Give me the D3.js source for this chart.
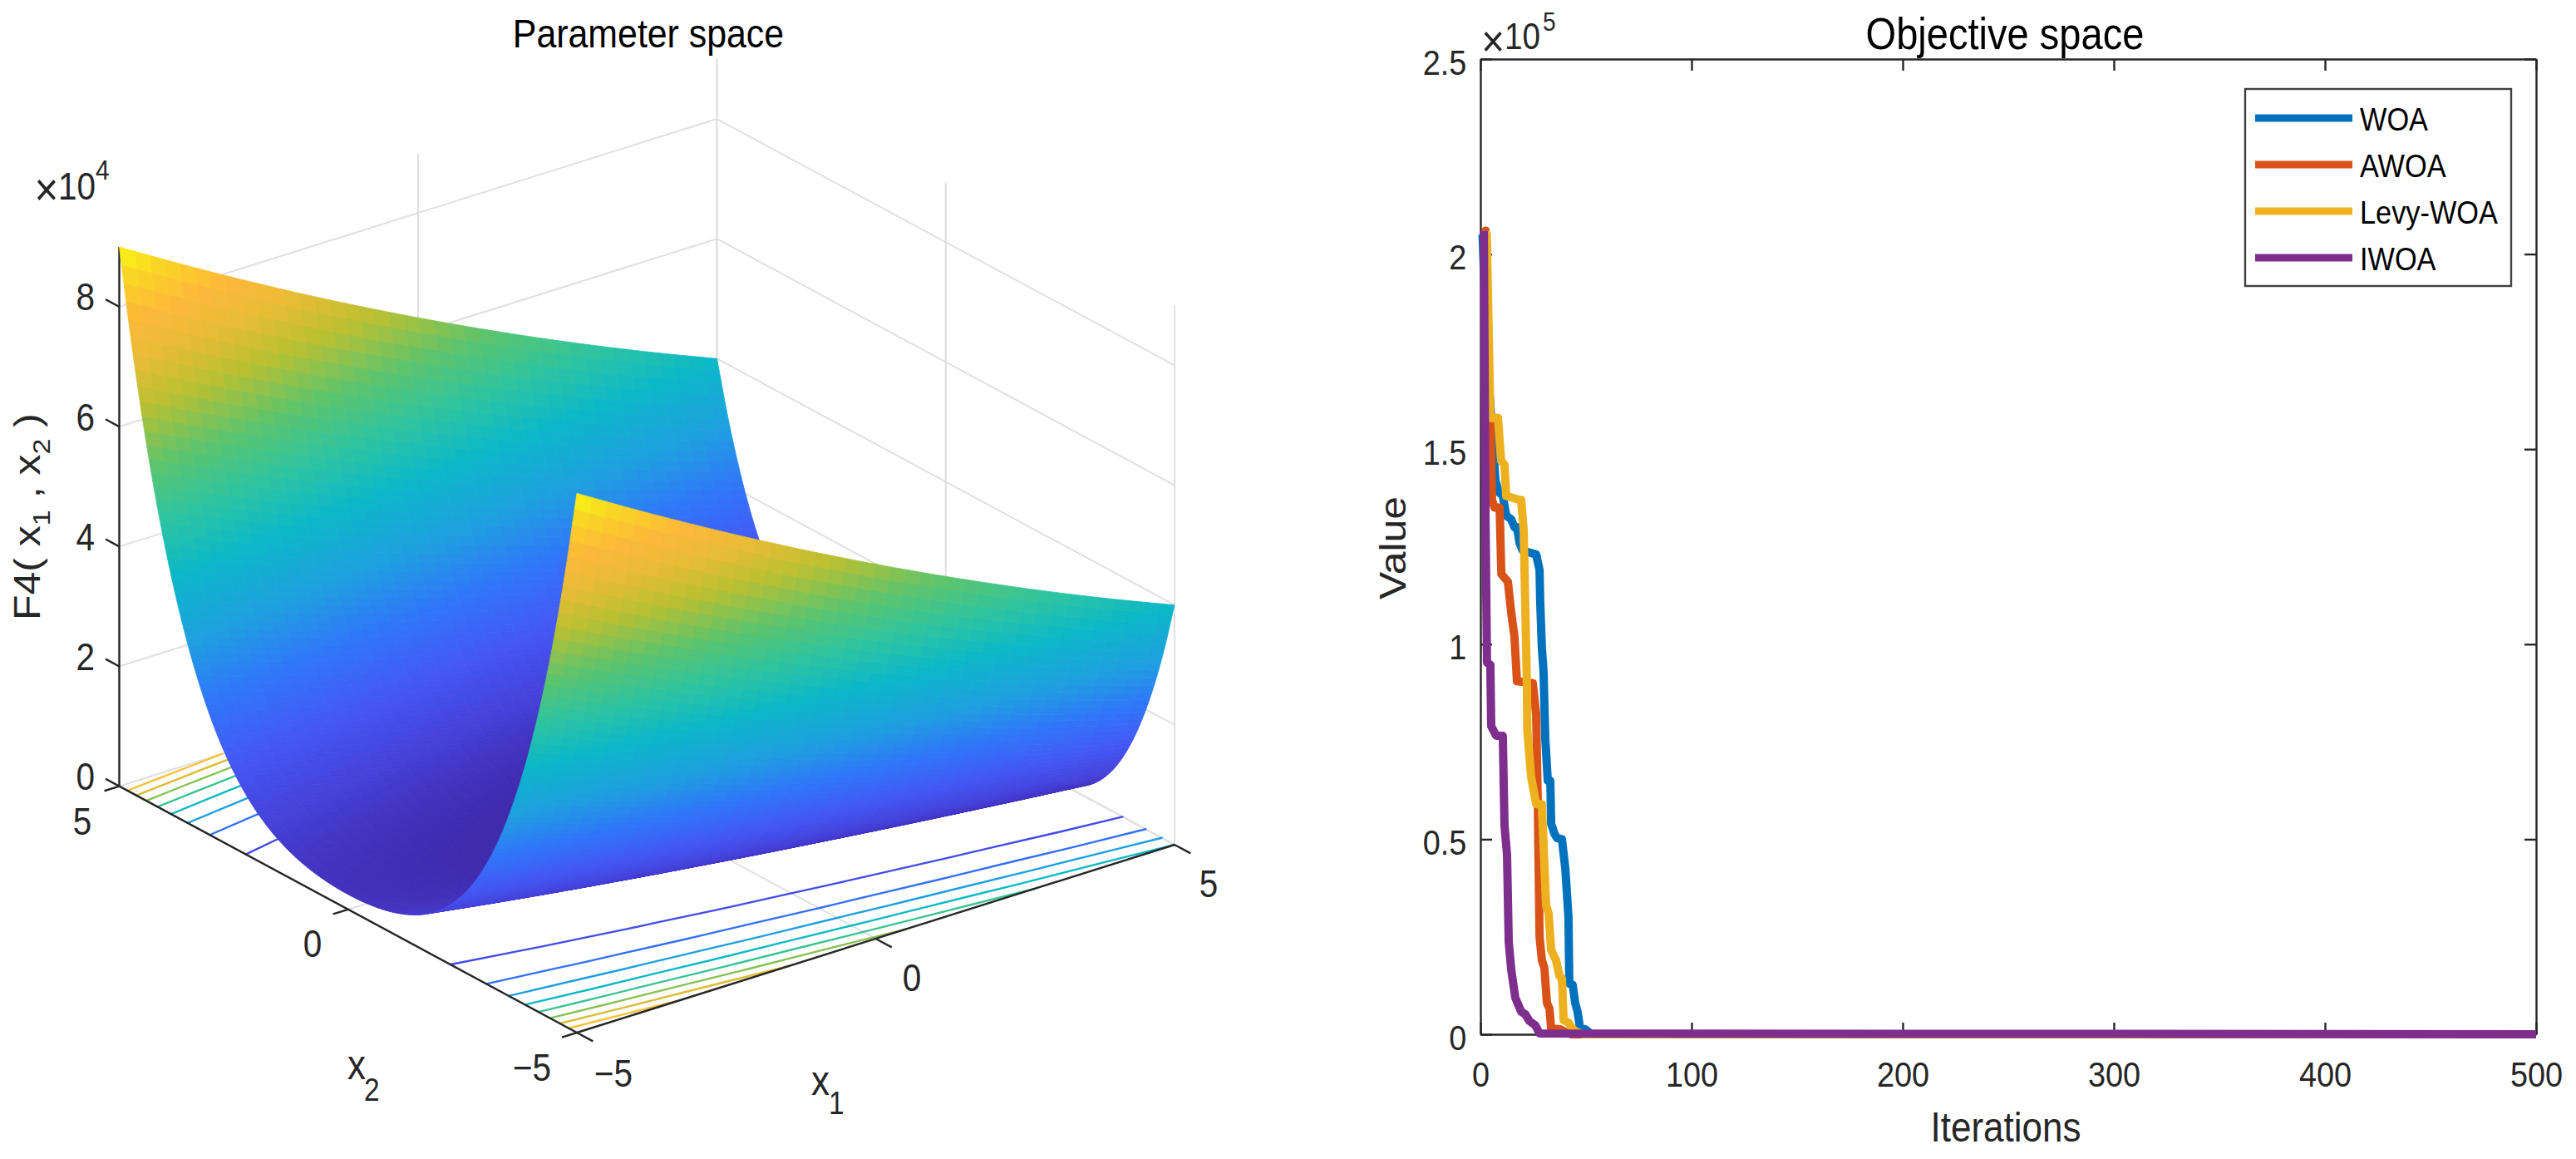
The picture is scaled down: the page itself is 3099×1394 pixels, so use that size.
<!DOCTYPE html>
<html>
<head>
<meta charset="utf-8">
<script src="https://cdn.jsdelivr.net/npm/d3@7"></script>
<style>
	html, body { margin: 0; padding: 0; background: #fff; }
	text { font-family: "Liberation Sans", Arial, sans-serif; }
</style>
</head>
<body>
<svg class="figure" width="3099" height="1394"></svg>
<script>
// ---------- Surface values, in units of 1e4 ----------
var x1Grid = [-5, -4, -3, -2, -1, 0, 1, 2, 3, 4, 5];
// Rows for x2 = 0, 0.25 ... 5. The trough is the same on the negative x2 side
var x2Half = [0, 0.25, 0.5, 0.75, 1, 1.25, 1.5, 1.75, 2, 2.25, 2.5, 2.75, 3, 3.25, 3.5, 3.75, 4, 4.25, 4.5, 4.75, 5];
var zRows = [
	[.25, .16, .09, .04, .01, 0, .01, .04, .09, .16, .25],
	[.256, .165, .094, .043, .011, 0, .009, .038, .086, .155, .244],
	[.276, .181, .106, .051, .016, .001, .006, .031, .076, .141, .226],
	[.309, .208, .127, .066, .024, .003, .002, .021, .059, .118, .197],
	[.36, .25, .16, .09, .04, .01, 0, .01, .04, .09, .16],
	[.431, .309, .208, .127, .066, .024, .003, .002, .021, .059, .118],
	[.526, .391, .276, .181, .106, .051, .016, .001, .006, .031, .076],
	[.65, .499, .368, .256, .165, .094, .043, .011, 0, .009, .038],
	[.81, .64, .49, .36, .25, .16, .09, .04, .01, 0, .01],
	[1.013, .821, .65, .499, .368, .256, .165, .094, .043, .011, 0],
	[1.266, 1.051, .856, .681, .526, .391, .276, .181, .106, .051, .016],
	[1.578, 1.337, 1.116, .914, .733, .572, .431, .309, .208, .127, .066],
	[1.96, 1.69, 1.44, 1.21, 1, .81, .64, .49, .36, .25, .16],
	[2.422, 2.121, 1.839, 1.578, 1.337, 1.116, .914, .733, .572, .431, .309],
	[2.976, 2.641, 2.326, 2.031, 1.756, 1.501, 1.266, 1.051, .856, .681, .526],
	[3.634, 3.263, 2.911, 2.58, 2.269, 1.978, 1.706, 1.455, 1.224, 1.013, .821],
	[4.41, 4, 3.61, 3.24, 2.89, 2.56, 2.25, 1.96, 1.69, 1.44, 1.21],
	[5.319, 4.868, 4.436, 4.025, 3.634, 3.263, 2.911, 2.58, 2.269, 1.978, 1.706],
	[6.376, 5.881, 5.406, 4.951, 4.516, 4.101, 3.706, 3.331, 2.976, 2.641, 2.326],
	[7.597, 7.056, 6.534, 6.033, 5.552, 5.091, 4.649, 4.228, 3.827, 3.446, 3.084],
	[9, 8.41, 7.84, 7.29, 6.76, 6.25, 5.76, 5.29, 4.84, 4.41, 4]
];
var contourLevels = [1, 2, 3, 4, 5, 6, 7, 8];
var horizTicks = [-5, 0, 5];
var zTicks = [0, 2, 4, 6, 8];

// ---------- Convergence curves, values in units of 1e5 ----------
var seriesNames = ['WOA', 'AWOA', 'Levy-WOA', 'IWOA'];
var seriesColors = ['#0072bd', '#d95319', '#edb120', '#7e2f8e'];
var iterWOA = [1, 3, 7.1, 8.7, 10.6, 12.2, 14.6, 16.1, 17.3, 18.5, 20, 26.4, 28, 28.3, 29.1, 29.9, 30.7, 31.9, 33.1, 33.5, 35, 36.2, 38.6, 40.2, 41.7, 42.1, 43.7, 44.9, 46, 47.2, 49.6, 52.8, 500];
var valWOA = [2.05, 1.75, 1.42, 1.39, 1.38, 1.33, 1.32, 1.3, 1.3, 1.26, 1.24, 1.23, 1.19, 1.11, .99, .93, .76, .65, .65, .54, .515, .503, .5, .425, .3, .13, .127, .08, .058, .015, .013, 0, 0];
var iterAWOA = [2, 2.4, 3.9, 4.7, 5.5, 6.7, 9.1, 9.9, 13, 14.6, 16.1, 17.3, 24.8, 26.4, 27.2, 28, 29.1, 30.3, 31.5, 32.7, 33.5, 37.8, 40.2, 43, 500];
var valAWOA = [2.05, 2.06, 1.71, 1.57, 1.37, 1.35, 1.35, 1.18, 1.16, 1.08, 1.02, .905, .9, .82, .58, .25, .19, .17, .08, .066, .015, .013, .006, 0, 0];
var iterLevy = [1, 3, 4.7, 8.3, 9.4, 9.8, 11.4, 12.2, 18.5, 19.3, 20.5, 21.3, 22, 22.2, 24, 26.4, 29.1, 31.1, 32.3, 33.5, 35.8, 37.4, 38.6, 39.4, 41.7, 43.7, 45.7, 48.8, 500];
var valLevy = [2.05, 2.05, 1.58, 1.58, 1.5, 1.47, 1.46, 1.38, 1.37, 1.37, 1.29, 1.08, .9, .78, .66, .59, .59, .33, .31, .216, .19, .15, .143, .036, .03, .013, .006, 0, 0];
var iterIWOA = [1.6, 2.4, 3.1, 4.7, 5.1, 7.5, 10.6, 11.4, 12.6, 13.4, 14.6, 16.5, 19.3, 21.3, 23.2, 26, 28, 500];
var valIWOA = [2.06, 1.33, .953, .947, .79, .765, .765, .535, .46, .237, .165, .094, .058, .051, .034, .023, .002, 0];
var seriesIter = [iterWOA, iterAWOA, iterLevy, iterIWOA];
var seriesVal = [valWOA, valAWOA, valLevy, valIWOA];

var xTicksRight = [0, 100, 200, 300, 400, 500];
var yTicksRight = [0, 0.5, 1, 1.5, 2, 2.5];

var svg = d3.select('.figure');
var inkColor = '#262626';

// The whole figure is a bit narrower than it is tall, so text is squeezed
var squeeze = 0.88;
function addText(str, x, y, size, anchor, color) {
	return svg.append('text')
		.attr('transform', 'translate(' + x + ',' + y + ') scale(' + squeeze + ',1)')
		.attr('font-size', size)
		.attr('text-anchor', anchor || 'middle')
		.attr('fill', color || inkColor)
		.text(str);
}

// ---------- Left panel: 3D view ----------
var corner = {left: [143.5, 945.6], bottom: [694, 1242], right: [1413, 1016]};
var unitX1 = d3.scaleLinear().domain([-5, 5]).range([0, 1]);
var unitX2 = d3.scaleLinear().domain([-5, 5]).range([0, 1]);
var zLift = d3.scaleLinear().domain([0, 9]).range([0, 648.6]);

function project(x1, x2, z) {
	var a = unitX1(x1), b = unitX2(x2);
	return [
		corner.bottom[0] + a * (corner.right[0] - corner.bottom[0]) + b * (corner.left[0] - corner.bottom[0]),
		corner.bottom[1] + a * (corner.right[1] - corner.bottom[1]) + b * (corner.left[1] - corner.bottom[1]) - zLift(z)
	];
}

// Table over the full x2 range
var x2Grid = x2Half.slice(1).reverse().map(function(d) { return -d; }).concat(x2Half);
var zTable = zRows.slice(1).reverse().concat(zRows);

function tableAt(i, j) {
	if (j < 0) return 2 * tableAt(i, 0) - tableAt(i, 1);
	if (j >= x2Grid.length) return 2 * tableAt(i, x2Grid.length - 1) - tableAt(i, x2Grid.length - 2);
	if (i < 0) return 2 * zTable[j][0] - zTable[j][1];
	if (i >= x1Grid.length) return 2 * zTable[j][x1Grid.length - 1] - zTable[j][x1Grid.length - 2];
	return zTable[j][i];
}

function catmull(p0, p1, p2, p3, t) {
	return 0.5 * (2 * p1 + (p2 - p0) * t + (2 * p0 - 5 * p1 + 4 * p2 - p3) * t * t + (3 * p1 - p0 - 3 * p2 + p3) * t * t * t);
}

// Smooth facets between the table rows and columns, like the fine mesh of the surface
function surfaceAt(x1, x2) {
	var fi = x1 + 5, fj = (x2 + 5) * 4;
	var i = Math.min(Math.floor(fi), x1Grid.length - 2), j = Math.min(Math.floor(fj), x2Grid.length - 2);
	var rows = [-1, 0, 1, 2].map(function(dj) {
		return catmull(tableAt(i - 1, j + dj), tableAt(i, j + dj), tableAt(i + 1, j + dj), tableAt(i + 2, j + dj), fi - i);
	});
	return Math.max(0, catmull(rows[0], rows[1], rows[2], rows[3], fj - j));
}

var parula = d3.scaleLinear()
	.domain([0, .07, .15, .244, .33, .44, .53, .62, .72, .8, .87, .94, 1].map(function(d) { return d * 9; }))
	.range(['#3e26a8', '#4540d8', '#4458f5', '#2f78f8', '#1f9fe0', '#0cb8c8', '#2ec4a0', '#5bc46e', '#b8c032', '#e8bc35', '#fdb83a', '#fad425', '#f9fb15'])
	.interpolate(d3.interpolateRgb)
	.clamp(true);

var walls = svg.append('g').attr('fill', 'none').attr('stroke', '#e0e0e0').attr('stroke-width', 2);
var wallLines = [];
zTicks.forEach(function(z) {
	wallLines.push([[-5, 5, z], [5, 5, z]]);
	wallLines.push([[5, -5, z], [5, 5, z]]);
});
horizTicks.forEach(function(t) {
	wallLines.push([[t, 5, 0], [t, 5, 9]]);
	wallLines.push([[5, t, 0], [5, t, 9]]);
	wallLines.push([[t, -5, 0], [t, 5, 0]]);
	wallLines.push([[-5, t, 0], [5, t, 0]]);
});
walls.selectAll('path')
	.data(wallLines)
	.enter().append('path')
	.attr('d', function(d) {
		return d3.line()(d.map(function(p) { return project(p[0], p[1], p[2]); }));
	});

// Contour lines on the floor
var flatValues = [];
zTable.forEach(function(row) { row.forEach(function(v) { flatValues.push(v); }); });
var contourSets = d3.contours()
	.size([x1Grid.length, x2Grid.length])
	.thresholds(contourLevels)(flatValues);

var floorX1 = d3.scaleLinear().domain([0.5, x1Grid.length - 0.5]).range([-5, 5]).clamp(true);
var floorX2 = d3.scaleLinear().domain([0.5, x2Grid.length - 0.5]).range([-5, 5]).clamp(true);

function contourPath(set) {
	var path = d3.path();
	set.coordinates.forEach(function(polygon) {
		polygon.forEach(function(ring) {
			for (var k = 1; k < ring.length; k++) {
				var a = [floorX1(ring[k - 1][0]), floorX2(ring[k - 1][1])];
				var b = [floorX1(ring[k][0]), floorX2(ring[k][1])];
				// Rings close along the table border, that part is no contour
				var onEdge = (Math.abs(a[0]) == 5 && a[0] == b[0]) || (Math.abs(a[1]) == 5 && a[1] == b[1]);
				if (onEdge) continue;
				var pa = project(a[0], a[1], 0), pb = project(b[0], b[1], 0);
				path.moveTo(pa[0], pa[1]);
				path.lineTo(pb[0], pb[1]);
			}
		});
	});
	return path.toString();
}

svg.append('g').attr('fill', 'none').attr('stroke-width', 2.4).attr('stroke-linecap', 'round')
	.selectAll('path')
	.data(contourSets)
	.enter().append('path')
	.attr('stroke', function(d) { return parula(d.value); })
	.attr('d', contourPath);

// Axes of the 3D box
var axes3d = svg.append('g').attr('fill', 'none').attr('stroke', inkColor).attr('stroke-width', 2.4);
function line3d(a, b) {
	axes3d.append('path').attr('d', d3.line()([project(a[0], a[1], a[2]), project(b[0], b[1], b[2])]));
}
line3d([-5, 5, 0], [-5, 5, 9]);
line3d([-5, 5, 0], [-5, -5, 0]);
line3d([-5, -5, 0], [5, -5, 0]);
zTicks.forEach(function(z) { line3d([-5, 5, z], [-5, 5.3, z]); });
horizTicks.forEach(function(t) {
	line3d([-5, t, 0], [-5.25, t, 0]);
	line3d([t, -5, 0], [t, -5.35, 0]);
});

// Surface, drawn from the far corner to the near one so nearer cells cover farther ones
var stepX1 = 0.25, stepX2 = 0.05;
var cells = [];
var x1Steps = d3.range(0, 40).reverse();
var x2Steps = d3.range(0, 200).reverse();
x1Steps.forEach(function(i) {
	x2Steps.forEach(function(j) {
		var a1 = -5 + i * stepX1, a2 = -5 + j * stepX2, b1 = a1 + stepX1, b2 = a2 + stepX2;
		var z00 = surfaceAt(a1, a2), z10 = surfaceAt(b1, a2), z11 = surfaceAt(b1, b2), z01 = surfaceAt(a1, b2);
		cells.push({
			points: [project(a1, a2, z00), project(b1, a2, z10), project(b1, b2, z11), project(a1, b2, z01)],
			level: (z00 + z10 + z11 + z01) / 4
		});
	});
});

svg.append('g').attr('stroke-width', 0.8).attr('stroke-linejoin', 'round')
	.selectAll('path')
	.data(cells)
	.enter().append('path')
	.attr('d', function(d) { return d3.line()(d.points) + 'Z'; })
	.attr('fill', function(d) { return parula(d.level); })
	.attr('stroke', function(d) { return parula(d.level); });

// Texts of the left panel
addText('Parameter space', 780, 57, 48.7, 'middle', '#000');
zTicks.forEach(function(z) {
	addText(String(z), 114, 950 - zLift(z), 46, 'end');
});
addText('\u00d7', 56, 247, 56);
addText('10', 115, 240, 46, 'end');
addText('4', 115, 216, 34, 'start');
addText('5', 99, 1004, 46);
addText('0', 376, 1151, 46);
addText('\u22125', 640, 1300, 46);
addText('\u22125', 738, 1307, 46);
addText('0', 1097, 1192, 46);
addText('5', 1454, 1079, 46);
addText('x', 418, 1298, 50, 'start');
addText('2', 438, 1324, 38, 'start');
addText('x', 976, 1317, 50, 'start');
addText('1', 997, 1340, 38, 'start');

var zLabel = svg.append('text')
	.attr('transform', 'translate(48,746) scale(' + squeeze + ',1) rotate(-90)')
	.attr('font-size', 50)
	.attr('fill', inkColor);
zLabel.append('tspan').text('F4( x');
zLabel.append('tspan').attr('font-size', 34).attr('dy', 14).text('1');
zLabel.append('tspan').attr('dy', -14).text(' , x');
zLabel.append('tspan').attr('font-size', 34).attr('dy', 14).text('2');
zLabel.append('tspan').attr('dy', -14).text(' )');

// ---------- Right panel: convergence curves ----------
var plot = {left: 1781, right: 3051, top: 71, bottom: 1244};
var x = d3.scaleLinear().domain([0, 500]).range([plot.left, plot.right]);
var y = d3.scaleLinear().domain([0, 2.5]).range([plot.bottom, plot.top]);

function styleAxis(g) {
	g.selectAll('path').attr('stroke', inkColor).attr('stroke-width', 2.4);
	g.selectAll('line').attr('stroke', inkColor).attr('stroke-width', 2.4);
	g.selectAll('text').attr('font-size', 43).attr('fill', inkColor);
}

var bottomAxis = svg.append('g')
	.attr('transform', 'translate(0,' + plot.bottom + ')')
	.call(d3.axisBottom(x).tickValues(xTicksRight).tickSize(-14).tickSizeOuter(0).tickFormat(d3.format('d')))
	.call(styleAxis);
bottomAxis.selectAll('text')
	.attr('y', 63).attr('dy', 0)
	.attr('transform', 'scale(' + squeeze + ',1)')
	.attr('x', 0);

var leftAxis = svg.append('g')
	.attr('transform', 'translate(' + plot.left + ',0)')
	.call(d3.axisLeft(y).tickValues(yTicksRight).tickSize(-14).tickSizeOuter(0).tickFormat(function(d) { return String(d); }))
	.call(styleAxis);
leftAxis.selectAll('text')
	.attr('x', -19).attr('y', 18).attr('dy', 0)
	.attr('transform', 'scale(' + squeeze + ',1)');

svg.append('g')
	.attr('transform', 'translate(0,' + plot.top + ')')
	.call(d3.axisTop(x).tickValues(xTicksRight).tickSize(-14).tickSizeOuter(0).tickFormat(''))
	.call(styleAxis);
svg.append('g')
	.attr('transform', 'translate(' + plot.right + ',0)')
	.call(d3.axisRight(y).tickValues(yTicksRight).tickSize(-14).tickSizeOuter(0).tickFormat(''))
	.call(styleAxis);

var curve = d3.line()
	.x(function(d) { return x(d[0]); })
	.y(function(d) { return y(d[1]); });

svg.append('g').attr('fill', 'none').attr('stroke-width', 10).attr('stroke-linejoin', 'round')
	.selectAll('path')
	.data(seriesNames)
	.enter().append('path')
	.attr('stroke', function(d, i) { return seriesColors[i]; })
	.attr('d', function(d, i) { return curve(d3.zip(seriesIter[i], seriesVal[i])); });

addText('Objective space', 2412, 59, 53.5, 'middle', '#000');
addText('Iterations', 2413, 1373, 50);
addText('\u00d7', 1796, 68, 54);
addText('10', 1853, 59, 44, 'end');
addText('5', 1856, 37, 32, 'start');

svg.append('text')
	.attr('transform', 'translate(1691,721) scale(' + squeeze + ',1) rotate(-90)')
	.attr('font-size', 50)
	.attr('fill', inkColor)
	.text('Value');

// Legend
var legendBaselines = d3.scalePoint().domain(seriesNames).range([142, 310]);
svg.append('rect')
	.attr('x', 2701).attr('y', 107)
	.attr('width', 320).attr('height', 237)
	.attr('fill', '#fff').attr('stroke', '#404040').attr('stroke-width', 2.4);

var legend = svg.append('g').selectAll('g')
	.data(seriesNames)
	.enter().append('g');
legend.append('line')
	.attr('x1', 2713).attr('x2', 2830)
	.attr('y1', function(d) { return legendBaselines(d); })
	.attr('y2', function(d) { return legendBaselines(d); })
	.attr('stroke', function(d, i) { return seriesColors[i]; })
	.attr('stroke-width', 9);
legend.append('text')
	.attr('transform', function(d) { return 'translate(2839,' + (legendBaselines(d) + 15) + ') scale(' + squeeze + ',1)'; })
	.attr('font-size', 39)
	.attr('fill', '#000')
	.text(function(d) { return d; });
</script>
</body>
</html>
